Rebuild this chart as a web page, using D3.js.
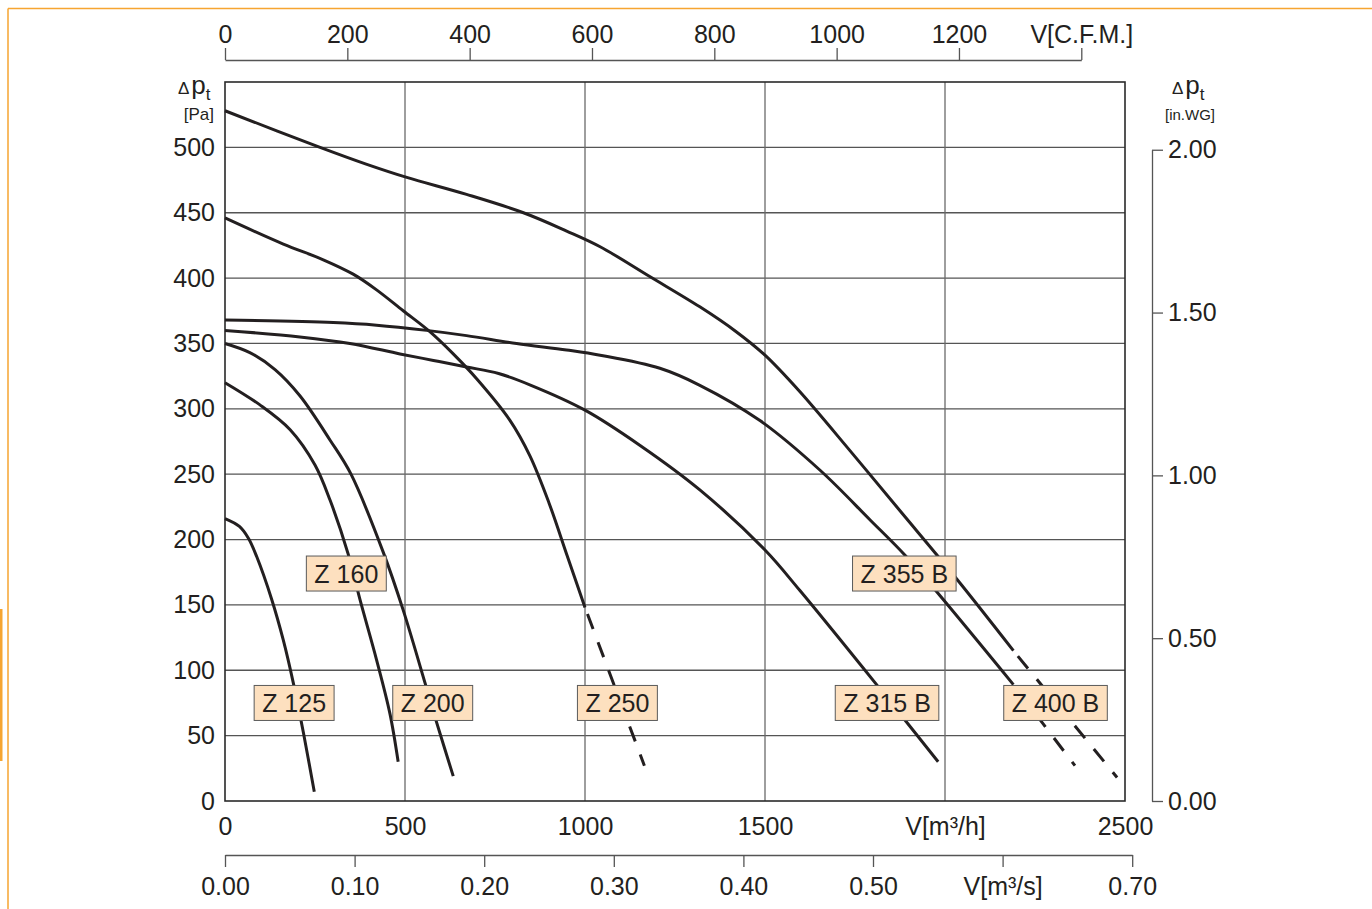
<!DOCTYPE html>
<html>
<head>
<meta charset="utf-8">
<script src="https://cdn.jsdelivr.net/npm/d3@7"></script>
<style>
  body { margin: 0; background: #fff; }
  svg { display: block; }
  text { font-family: "Liberation Sans", Arial, Helvetica, sans-serif; fill: #231f20; }
</style>
</head>
<body>
<div id="chart"></div>
<script>
// fan curves: [flow m3/h, total pressure Pa]
const z125 = [[0,216],[40,210],[65,201],[88,187],[130,154],[162,123],[190,90],[218,52],[248,7]];
const z160 = [[0,320],[97,303],[181,284],[250,257],[292,230],[342,189],[375,154],[421,108],[458,67],[481,30]];
const z200 = [[0,350],[69,343],[139,330],[208,310],[292,276],[350,250],[440,190],[495,146],[556,90],[588,60],[634,19]];
const z250 = [[0,446],[162,426],[273,414],[356,403],[421,391],[495,375],[569,359],[634,342],[699,323],[792,291],[847,264],[900,228],[950,188],[1000,148]];
const z250Ext = [[1000,148],[1165,27]];
const z315b = [[0,360],[208,355],[347,350],[486,342],[579,337],[671,332],[760,327],[850,318],[1000,299],[1153,272],[1319,238],[1500,192],[1597,161],[1810,89],[1981,30]];
const z355b = [[0,368],[301,366],[421,364],[560,360],[671,356],[810,350],[949,345],[1042,341],[1208,331],[1319,318],[1486,291],[1653,253],[1792,215],[1889,188],[1977,160],[2190,89]];
const z355bExt = [[2190,89],[2361,27]];
const z400b = [[0,528],[264,500],[394,487],[505,477],[671,464],[829,450],[949,436],[1042,424],[1181,401],[1319,378],[1420,359],[1500,341],[1597,313],[1736,268],[1875,222],[2032,170],[2190,115]];
const z400bExt = [[2190,115],[2478,18]];

const labels = [
  { name: "Z 125",   q: 192,  p: 75 },
  { name: "Z 160",   q: 337,  p: 174 },
  { name: "Z 200",   q: 577,  p: 75 },
  { name: "Z 250",   q: 1090, p: 75 },
  { name: "Z 315 B", q: 1839, p: 75 },
  { name: "Z 355 B", q: 1887, p: 174 },
  { name: "Z 400 B", q: 2307, p: 75 }
];

const flowTicks = [0, 500, 1000, 1500, 2000, 2500];
const paTicks   = [0, 50, 100, 150, 200, 250, 300, 350, 400, 450, 500];
const cfmTicks  = [0, 200, 400, 600, 800, 1000, 1200, 1400];
const m3sTicks  = [0, 0.1, 0.2, 0.3, 0.4, 0.5, 0.6, 0.7];
const inwgTicks = [0, 0.5, 1, 1.5, 2];

const W = 1372, H = 909;
const pLeft = 225, pRight = 1125, pTop = 82, pBottom = 801;
const CFM = 1.699, PA_PER_IN = 249.089;

const svg = d3.select("#chart").append("svg")
  .attr("width", W).attr("height", H);

// orange page frame
const orange = "#f6a531";
svg.append("line").attr("x1", 8).attr("x2", W).attr("y1", 8.5).attr("y2", 8.5)
  .attr("stroke", orange).attr("stroke-width", 1.5);
svg.append("line").attr("x1", 8).attr("x2", 8).attr("y1", 8.5).attr("y2", H)
  .attr("stroke", orange).attr("stroke-width", 1.5);
svg.append("rect").attr("x", 0).attr("y", 609).attr("width", 2.5).attr("height", 152)
  .attr("fill", orange);

const x = d3.scaleLinear().domain([0, 2500]).range([pLeft, pRight]);
const y = d3.scaleLinear().domain([0, 550]).range([pBottom, pTop]);

// grid
svg.append("g").selectAll("line")
  .data(paTicks.filter(d => d > 0))
  .join("line")
    .attr("x1", pLeft).attr("x2", pRight)
    .attr("y1", d => y(d)).attr("y2", d => y(d))
    .attr("stroke", "#555").attr("stroke-width", 1.3);
svg.append("g").selectAll("line")
  .data(flowTicks.filter(d => d > 0 && d < 2500))
  .join("line")
    .attr("x1", d => x(d)).attr("x2", d => x(d))
    .attr("y1", pTop).attr("y2", pBottom)
    .attr("stroke", "#6a6a6a").attr("stroke-width", 1.3);

svg.append("rect")
  .attr("x", pLeft).attr("y", pTop)
  .attr("width", pRight - pLeft).attr("height", pBottom - pTop)
  .attr("fill", "none").attr("stroke", "#2a2a2a").attr("stroke-width", 1.6);

const fs = 25;

// left Pa axis
svg.append("g")
  .attr("transform", `translate(${pLeft},0)`)
  .call(d3.axisLeft(y).tickValues(paTicks).tickSize(0).tickPadding(10))
  .call(g => g.select(".domain").remove())
  .call(g => g.selectAll("text").attr("font-size", fs).attr("fill", "#231f20"));

// bottom m3/h axis
svg.append("g")
  .attr("transform", `translate(0,${pBottom})`)
  .call(d3.axisBottom(x).tickValues(flowTicks).tickSize(0).tickPadding(16)
    .tickFormat(d => d === 2000 ? "V[m³/h]" : d))
  .call(g => g.select(".domain").remove())
  .call(g => g.selectAll("text").attr("font-size", fs).attr("fill", "#231f20"));

// top CFM axis
const xCfm = d3.scaleLinear().domain([0, 1400]).range([pLeft, x(1400 * CFM)]);
svg.append("g")
  .attr("transform", "translate(0,60)")
  .call(d3.axisTop(xCfm).tickValues(cfmTicks).tickSize(12).tickSizeOuter(0).tickPadding(5)
    .tickFormat(d => d === 1400 ? "V[C.F.M.]" : d))
  .call(g => g.selectAll("line,path").attr("stroke", "#555").attr("stroke-width", 1.3))
  .call(g => g.selectAll("text").attr("font-size", fs).attr("fill", "#231f20"));

// bottom m3/s axis
const xM3s = d3.scaleLinear().domain([0, 0.7]).range([pLeft, x(0.7 * 3600)]);
svg.append("g")
  .attr("transform", "translate(0,855)")
  .call(d3.axisBottom(xM3s).tickValues(m3sTicks).tickSize(12).tickSizeOuter(0).tickPadding(10)
    .tickFormat(d => Math.abs(d - 0.6) < 1e-9 ? "V[m³/s]" : d3.format(".2f")(d)))
  .call(g => g.selectAll("line,path").attr("stroke", "#555").attr("stroke-width", 1.3))
  .call(g => g.selectAll("text").attr("font-size", fs).attr("fill", "#231f20"));

// right in.WG axis
const yIn = d3.scaleLinear().domain([0, 2]).range([pBottom, y(2 * PA_PER_IN)]);
svg.append("g")
  .attr("transform", "translate(1152,0)")
  .call(d3.axisRight(yIn).tickValues(inwgTicks).tickSize(11).tickSizeOuter(0).tickPadding(5)
    .tickFormat(d3.format(".2f")))
  .call(g => g.selectAll("line,path").attr("stroke", "#555").attr("stroke-width", 1.3))
  .call(g => g.selectAll("text").attr("font-size", fs).attr("fill", "#231f20"));

// axis titles
function dpTitle(xPos, unit, unitSize, unitX, unitAnchor) {
  const t = svg.append("text").attr("x", xPos).attr("y", 94);
  t.append("tspan").attr("font-size", 17).text("Δ");
  t.append("tspan").attr("font-size", 26).attr("dx", 2).text("p");
  t.append("tspan").attr("font-size", 17).attr("dy", 6).text("t");
  svg.append("text").attr("x", unitX).attr("y", 120)
    .attr("text-anchor", unitAnchor).attr("font-size", unitSize).text(unit);
}
dpTitle(178, "[Pa]", 17, 214, "end");
dpTitle(1172, "[in.WG]", 15, 1190, "middle");

// curves
const line = d3.line()
  .x(d => x(d[0])).y(d => y(d[1]))
  .curve(d3.curveCatmullRom.alpha(0.5));

const solid = [z125, z160, z200, z250, z315b, z355b, z400b];
const dashed = [z250Ext, z355bExt, z400bExt];

svg.append("g").selectAll("path")
  .data(solid)
  .join("path")
    .attr("d", line)
    .attr("fill", "none").attr("stroke", "#231f20").attr("stroke-width", 3);

svg.append("g").selectAll("path")
  .data(dashed)
  .join("path")
    .attr("d", d3.line().x(d => x(d[0])).y(d => y(d[1])))
    .attr("fill", "none").attr("stroke", "#231f20").attr("stroke-width", 3)
    .attr("stroke-dasharray", "16,14").attr("stroke-dashoffset", -7);

// curve labels
const lab = svg.append("g").selectAll("g")
  .data(labels)
  .join("g")
    .attr("transform", d => `translate(${x(d.q)},${y(d.p)})`);

lab.append("text")
  .attr("text-anchor", "middle").attr("dy", "0.36em")
  .attr("font-size", fs)
  .text(d => d.name);

lab.insert("rect", "text")
  .each(function () {
    const bb = this.parentNode.querySelector("text").getBBox();
    d3.select(this)
      .attr("x", bb.x - 8).attr("y", -17.5)
      .attr("width", bb.width + 16).attr("height", 35);
  })
  .attr("fill", "#fde0bf").attr("stroke", "#5a5a5a").attr("stroke-width", 1);
</script>
</body>
</html>
